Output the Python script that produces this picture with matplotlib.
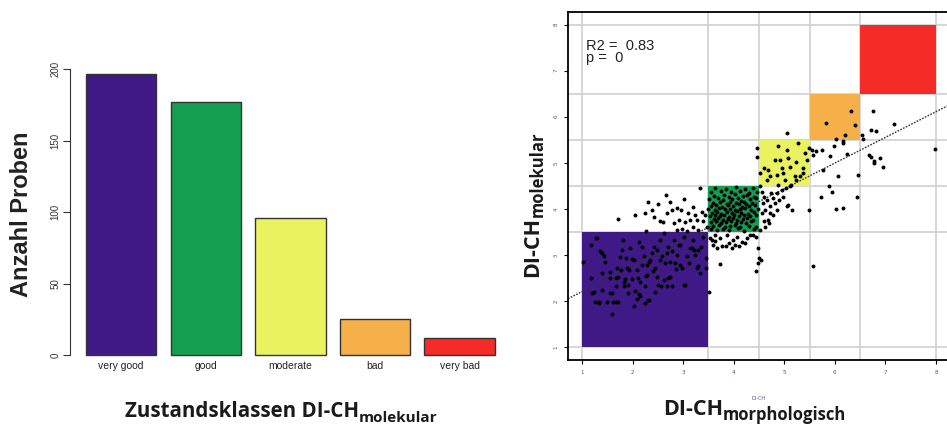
import matplotlib
matplotlib.use('Agg')
import matplotlib.pyplot as plt
from matplotlib.patches import Rectangle

# bar chart: number of samples per molecular class
classes = ['very good', 'good', 'moderate', 'bad', 'very bad']
counts = [197, 177, 96, 25, 12]
class_colors = ['#3f1a87', '#149f50', '#eaf35f', '#f5b04a', '#f42b27']

# class borders used for the grid and the coloured squares
class_bounds = [1, 3.5, 4.5, 5.5, 6.5, 8]

# scatter: DI-CH morphologisch (x) vs DI-CH molekular (y)
morph = [
    # purple block
    1.02, 1.18, 1.28, 1.18, 1.20, 1.25, 1.34, 1.36, 1.43, 1.39, 1.49, 1.59, 1.60, 1.56,
    1.66, 1.70, 1.66, 1.70, 1.76, 1.80, 1.82, 1.82, 1.86, 1.90, 1.91, 1.89, 1.95, 1.99,
    2.02, 2.03, 2.05, 2.09, 2.12, 2.14, 2.15, 2.18, 2.22, 2.25, 2.28, 2.25, 2.32, 2.35,
    2.38, 2.42, 2.45, 2.48, 2.51, 2.55, 2.58, 2.61, 2.64, 2.68, 2.69, 2.74, 2.78, 2.78,
    2.81, 2.84, 2.88, 2.91, 2.97, 3.01, 3.02, 3.07, 3.13, 3.19, 3.21, 3.27, 3.30, 3.34,
    3.35, 3.40, 3.51,
    1.30, 1.23, 1.33, 1.40, 1.46, 1.40, 1.55, 1.56, 1.62, 1.67, 1.68, 1.74, 1.79, 1.85,
    1.92, 1.98, 2.08, 2.11, 2.13, 2.19, 2.26, 2.29, 2.30, 2.33, 2.41, 2.44, 2.49, 2.54,
    2.57, 2.67, 2.70, 2.74, 2.86, 2.94, 2.94, 3.04, 3.12, 3.17, 3.24, 3.30, 3.46, 3.46,
    # above purple
    1.70, 2.04, 2.24, 2.30, 2.38, 2.43, 2.51, 2.55, 2.60, 2.65, 2.68, 2.74, 2.78, 2.81,
    2.88, 2.91, 2.96, 3.02, 3.04, 3.07, 3.10, 3.14, 3.20, 3.20, 3.24, 3.27, 3.30, 3.34,
    3.37, 3.40, 3.44, 3.47, 2.27, 2.61, 2.88, 2.97,
    # green block
    3.62, 3.85, 4.05, 4.22, 4.38, 3.55, 3.74, 3.95, 4.12, 4.30, 4.46,
    3.60, 3.80, 3.90, 4.02, 4.18, 4.27, 4.40, 3.52, 3.68, 3.78, 3.97, 4.08, 4.15, 4.33, 4.44,
    3.58, 3.72, 3.86, 3.93, 4.05, 4.20, 4.25, 4.37, 3.54, 3.65, 3.77, 3.88, 3.99, 4.10, 4.17,
    4.30, 4.42, 3.50, 3.62, 3.70, 3.82, 3.92, 4.03, 4.12, 4.22, 4.35, 4.47,
    3.57, 3.66, 3.75, 3.86, 3.96, 4.07, 4.15, 4.28, 4.40, 3.53, 3.63, 3.72, 3.80, 3.90, 4.00,
    4.10, 4.20, 4.32, 4.45, 3.60, 3.68, 3.78, 3.88, 3.98, 4.06, 4.18, 4.26, 4.38,
    3.55, 3.65, 3.75, 3.84, 3.94, 4.04, 4.14, 4.24, 4.35, 3.58, 3.70, 3.82, 3.92, 4.02, 4.12,
    4.30, 4.44, 3.54, 3.66, 3.78, 3.90, 4.08, 4.20, 4.40,
    # below green
    3.53, 3.59, 3.63, 3.67, 3.73, 3.76, 3.86, 3.90, 3.96, 3.99, 4.06, 4.11, 4.16, 3.73,
    4.26, 4.32, 4.39, 4.44, 4.48, 4.44, 4.50, 4.54, 4.48, 3.57, 3.84, 4.03, 4.22, 3.63,
    # between green and yellow
    4.52, 4.55, 4.59, 4.57, 4.62, 4.65, 4.67, 4.71, 4.72, 4.77, 4.78, 4.82, 4.85, 4.86,
    4.90, 4.95, 4.98, 5.05, 5.08, 5.15, 5.03, 5.11, 4.69, 4.62, 4.52, 4.59, 4.74, 4.55,
    5.49, 5.13, 5.24, 5.31, 5.38,
    # yellow block
    4.46, 4.46, 4.52, 4.59, 4.67, 4.72, 4.65, 4.82, 4.88, 4.91, 4.95, 4.98, 5.05, 5.08,
    5.12, 5.23, 5.27, 5.38, 5.41, 5.45, 5.48, 4.85, 5.01, 5.05, 5.21, 4.88,
    # right of yellow
    5.54, 5.57, 5.62, 5.74, 5.90, 5.98, 6.02, 6.17, 6.25, 5.76, 6.06, 6.45, 5.72,
    5.88, 5.95, 6.02, 6.17, 6.43, 5.56,
    # orange block
    5.83, 6.33, 6.40, 6.20, 6.17,
    # right of orange
    6.53, 6.55, 6.76, 6.72, 6.81, 7.17, 6.68, 6.71, 6.78, 6.78, 6.90, 6.95, 7.98,
]
molek = [
    # purple block
    2.84, 3.21, 3.36, 2.51, 2.17, 1.99, 1.95, 3.08, 2.97, 2.24, 1.99, 2.17, 1.71, 2.50,
    1.99, 1.97, 2.32, 2.53, 2.68, 3.33, 2.42, 2.32, 2.93, 2.17, 2.35, 2.71, 3.15, 2.48,
    2.89, 1.90, 2.21, 2.68, 3.29, 2.10, 2.42, 2.78, 2.98, 1.95, 2.56, 2.33, 2.02, 2.89,
    3.04, 3.17, 2.71, 2.53, 2.34, 3.33, 2.97, 2.46, 2.82, 2.32, 3.17, 2.53, 2.33, 3.08,
    3.33, 2.82, 3.01, 3.22, 2.71, 2.35, 3.40, 2.97, 3.15, 3.33, 3.11, 2.71, 3.11, 2.60,
    3.18, 3.40, 2.19,
    3.36, 2.20, 1.98, 3.04, 2.85, 2.60, 2.64, 2.17, 1.98, 2.51, 2.71, 2.95, 3.11, 2.47,
    2.67, 2.92, 2.05, 2.51, 2.16, 3.18, 2.54, 2.79, 2.03, 2.86, 2.66, 2.20, 3.11, 2.90,
    2.32, 3.04, 2.51, 2.86, 2.70, 3.22, 2.79, 2.35, 2.83, 3.15, 3.01, 2.76, 2.94, 2.72,
    # above purple
    3.78, 3.86, 3.91, 4.15, 3.97, 3.82, 4.11, 3.74, 3.71, 4.31, 3.91, 4.16, 3.97, 3.69,
    4.02, 3.76, 3.97, 4.21, 3.71, 3.53, 3.91, 3.76, 4.05, 3.62, 3.88, 3.76, 3.55, 4.45,
    3.94, 3.73, 3.88, 3.62, 3.53, 3.49, 3.54, 3.56,
    # green block
    4.46, 4.44, 4.47, 4.43, 4.45, 4.37, 4.40, 4.36, 4.39, 4.35, 4.38,
    4.29, 4.31, 4.27, 4.32, 4.28, 4.30, 4.26, 4.21, 4.23, 4.19, 4.22, 4.24, 4.18, 4.21, 4.23,
    4.14, 4.16, 4.12, 4.15, 4.13, 4.16, 4.11, 4.14, 4.07, 4.09, 4.05, 4.08, 4.06, 4.10, 4.04,
    4.07, 4.09, 4.00, 3.98, 4.02, 3.99, 4.01, 3.97, 4.00, 4.02, 3.98, 4.01,
    3.92, 3.94, 3.90, 3.93, 3.91, 3.95, 3.92, 3.90, 3.94, 3.85, 3.87, 3.84, 3.86, 3.83, 3.88,
    3.85, 3.87, 3.84, 3.86, 3.78, 3.80, 3.77, 3.79, 3.81, 3.76, 3.79, 3.81, 3.77,
    3.71, 3.73, 3.70, 3.72, 3.74, 3.69, 3.72, 3.70, 3.73, 3.63, 3.65, 3.62, 3.64, 3.66, 3.61,
    3.64, 3.62, 3.56, 3.54, 3.57, 3.55, 3.58, 3.53, 3.56,
    # below green
    3.37, 3.22, 3.44, 3.15, 3.37, 3.19, 3.44, 3.26, 3.15, 3.33, 3.40, 3.20, 3.29, 2.80,
    3.37, 3.44, 3.44, 3.39, 3.15, 2.66, 2.93, 2.89, 2.82, 3.33, 3.19, 3.22, 3.26, 3.30,
    # between green and yellow
    4.49, 4.38, 4.27, 4.13, 3.98, 4.20, 3.76, 3.91, 4.06, 4.24, 3.87, 4.13, 4.34, 3.98,
    4.20, 4.42, 4.27, 4.06, 4.09, 3.98, 4.45, 4.49, 3.69, 3.62, 3.55, 3.73, 4.34, 3.91,
    3.97, 4.53, 4.63, 4.71, 4.78,
    # yellow block
    5.32, 5.14, 4.78, 4.89, 4.85, 4.71, 4.63, 5.07, 5.36, 5.07, 4.89, 4.78, 5.28, 5.11,
    4.92, 5.02, 5.43, 4.89, 5.21, 5.07, 5.32, 4.74, 4.63, 5.65, 4.71, 4.52,
    # right of yellow
    5.28, 5.17, 5.25, 5.28, 5.15, 5.36, 5.52, 5.43, 5.20, 4.85, 4.71, 4.74, 4.26,
    4.49, 4.36, 4.00, 4.03, 4.27, 2.77,
    # orange block
    5.88, 6.12, 5.83, 5.61, 5.47,
    # right of orange
    5.61, 5.52, 6.14, 5.72, 5.70, 5.84, 5.18, 5.14, 5.05, 5.01, 5.10, 4.91, 5.31,
]

# regression line and statistics as printed in the chart
fit_intercept = 1.65
fit_slope = 0.558
stats_text = 'R2 =  0.83\np =  0'

bold_font = 'Open Sans'
r_font = 'Liberation Sans'

fig = plt.figure(figsize=(9.47, 4.25), dpi=100)

# ---------- left: bar chart ----------
ax1 = fig.add_axes([0.0738, 0.138, 0.4582, 0.7153])
xpos = [0.7 + 1.2 * i for i in range(len(counts))]
ax1.bar(xpos, counts, width=1.0, color=class_colors, edgecolor='#333333', linewidth=1.0)
ax1.set_xlim(-0.028, 6.128)
ax1.set_ylim(-7.9, 204.9)
for s in ['top', 'right', 'bottom']:
    ax1.spines[s].set_visible(False)
ax1.spines['left'].set_bounds(0, 200)
ax1.spines['left'].set_color('#333333')
ax1.set_yticks([0, 50, 100, 150, 200])
ax1.tick_params(axis='y', length=5, width=0.8, color='#333333', labelsize=7,
                labelcolor='#333333', labelrotation=90, pad=2)
for lab in ax1.get_yticklabels():
    lab.set_fontfamily(r_font)
    lab.set_va('center')
ax1.set_xticks(xpos)
ax1.set_xticklabels(classes, fontsize=7.5, color='#222222', fontfamily=r_font)
ax1.tick_params(axis='x', length=0, pad=-4)
ax1.set_ylabel('Anzahl Proben', fontsize=17, fontweight='bold', fontfamily=r_font,
               color='#222222', labelpad=12)

# ---------- right: scatter ----------
ax2 = fig.add_axes([0.5998, 0.1529, 0.4034, 0.8188])
ax2.set_xlim(0.72, 8.28)
ax2.set_ylim(0.72, 8.28)
for b in class_bounds:
    ax2.axvline(b, color='#cfcfcf', linewidth=1.2, zorder=0)
    ax2.axhline(b, color='#cfcfcf', linewidth=1.2, zorder=0)
for i, c in enumerate(class_colors):
    lo, hi = class_bounds[i], class_bounds[i + 1]
    ax2.add_patch(Rectangle((lo, lo), hi - lo, hi - lo, facecolor=c, edgecolor='none', zorder=1))
ax2.scatter(morph, molek, s=8, color='black', linewidths=0, zorder=3)
ax2.axline((0, fit_intercept), slope=fit_slope, color='#333333', linestyle=(0, (1.2, 1.0)),
           linewidth=1.0, zorder=2)
ax2.text(1.08, 7.70, stats_text, fontsize=10.5, fontfamily=r_font, va='top', ha='left',
         linespacing=0.8, color='#222222', zorder=4)
for s in ax2.spines.values():
    s.set_linewidth(1.3)
ax2.set_xticks(range(1, 9))
ax2.set_yticks(range(1, 9))
ax2.tick_params(length=3, width=0.8, labelsize=4, labelcolor='#555577', pad=4)
ax2.tick_params(axis='y', labelrotation=90)
ax2.set_xlabel('DI-CH', fontsize=3.5, color='#555577', labelpad=15)

# ---------- big labels with subscripts ----------
renderer = fig.canvas.get_renderer()


def sub_label(x, y, main, sub, size, sub_size, drop, rotation=0):
    # x, y in figure pixels (start of the baseline)
    W, H = fig.bbox.width, fig.bbox.height
    if rotation == 0:
        t = fig.text(x / W, 1 - y / H, main, fontsize=size, fontweight='bold',
                     fontfamily=bold_font, color='#1a1a1a', ha='left', va='baseline')
        w = t.get_window_extent(renderer).width
        fig.text((x + w) / W, 1 - (y + drop) / H, sub, fontsize=sub_size, fontweight='bold',
                 fontfamily=bold_font, color='#1a1a1a', ha='left', va='baseline')
    else:
        t = fig.text(x / W, 1 - y / H, main, fontsize=size, fontweight='bold',
                     fontfamily=bold_font, color='#1a1a1a', rotation=90,
                     rotation_mode='anchor', ha='left', va='baseline')
        h = t.get_window_extent(renderer).height
        fig.text((x + drop) / W, 1 - (y - h) / H, sub, fontsize=sub_size, fontweight='bold',
                 fontfamily=bold_font, color='#1a1a1a', rotation=90,
                 rotation_mode='anchor', ha='left', va='baseline')


sub_label(125, 417, 'Zustandsklassen DI-CH', 'molekular', 14.8, 11, 5)
sub_label(663, 415, 'DI-CH', 'morphologisch', 15.5, 12, 5)
sub_label(538, 277, 'DI-CH', 'molekular', 15.5, 12, 5, rotation=90)

fig.savefig('out.png', dpi=100)
